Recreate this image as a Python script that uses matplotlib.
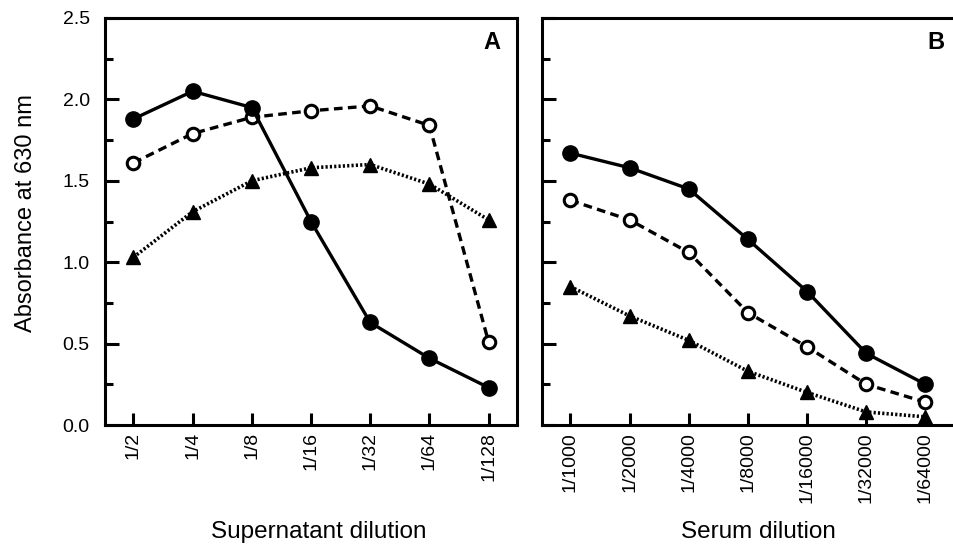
import matplotlib
matplotlib.use("Agg")
import matplotlib.pyplot as plt
from matplotlib.ticker import MultipleLocator

plt.rcParams['font.family'] = ['Liberation Sans', 'DejaVu Sans']

# Panel A
sup_labels = ["1/2", "1/4", "1/8", "1/16", "1/32", "1/64", "1/128"]
a_filled = [1.88, 2.05, 1.95, 1.25, 0.63, 0.41, 0.23]
a_open = [1.61, 1.79, 1.89, 1.93, 1.96, 1.84, 0.51]
a_tri = [1.03, 1.31, 1.50, 1.58, 1.60, 1.48, 1.26]

# Panel B
ser_labels = ["1/1000", "1/2000", "1/4000", "1/8000", "1/16000", "1/32000", "1/64000"]
b_filled = [1.67, 1.58, 1.45, 1.14, 0.82, 0.44, 0.25]
b_open = [1.38, 1.26, 1.06, 0.69, 0.48, 0.25, 0.14]
b_tri = [0.85, 0.67, 0.52, 0.33, 0.20, 0.08, 0.05]

fig = plt.figure(figsize=(9.54, 5.45), dpi=100)
axA = fig.add_axes([105/954, 1-425/545, 412/954, 407/545])
axB = fig.add_axes([542/954, 1-425/545, 416/954, 407/545])

def draw(ax, labels, filled, opn, tri, letter, lx, xlabel, xmax):
    x = list(range(len(labels)))
    ax.plot(x, tri, linestyle=(0, (0.6, 0.6)), color='black', lw=2.6,
            marker='^', ms=10, mfc='black', mec='black', zorder=3)
    ax.plot(x, opn, linestyle=(0, (2.6, 1.6)), color='black', lw=2.4,
            marker='o', ms=9, mfc='white', mec='black', mew=2.2, zorder=4)
    ax.plot(x, filled, linestyle='-', color='black', lw=2.4,
            marker='o', ms=11, mfc='black', mec='black', zorder=5)
    ax.set_xlim(-0.48, xmax)
    ax.set_ylim(0, 2.5)
    ax.set_xticks(x)
    ax.set_xticklabels(labels, rotation=90, fontsize=14)
    ax.yaxis.set_major_locator(MultipleLocator(0.5))
    ax.yaxis.set_minor_locator(MultipleLocator(0.25))
    ax.tick_params(axis='x', direction='in', length=9, width=2.2, pad=5)
    ax.tick_params(axis='y', which='major', direction='in', length=10, width=2.2, pad=11, labelsize=14)
    ax.tick_params(axis='y', which='minor', direction='in', length=6, width=2.2)
    for s in ax.spines.values():
        s.set_linewidth(2.2)
    ax.text(lx, 0.94, letter, transform=ax.transAxes, fontsize=17,
            fontweight='bold', ha='center', va='center')
    ax.set_xlabel(xlabel, fontsize=17.5)
    ax.xaxis.set_label_coords(0.52, -0.237)

draw(axA, sup_labels, a_filled, a_open, a_tri, "A", 0.939, "Supernatant dilution", 6.48)
draw(axB, ser_labels, b_filled, b_open, b_tri, "B", 0.947, "Serum dilution", 6.55)
axB.spines['right'].set_visible(False)

axA.yaxis.set_major_formatter(plt.FormatStrFormatter('%.1f'))
axA.set_ylabel("Absorbance at 630 nm", fontsize=17)
axA.yaxis.set_label_coords(-0.165, 0.52)
axB.set_yticklabels([])

fig.savefig("out.png", dpi=100)
